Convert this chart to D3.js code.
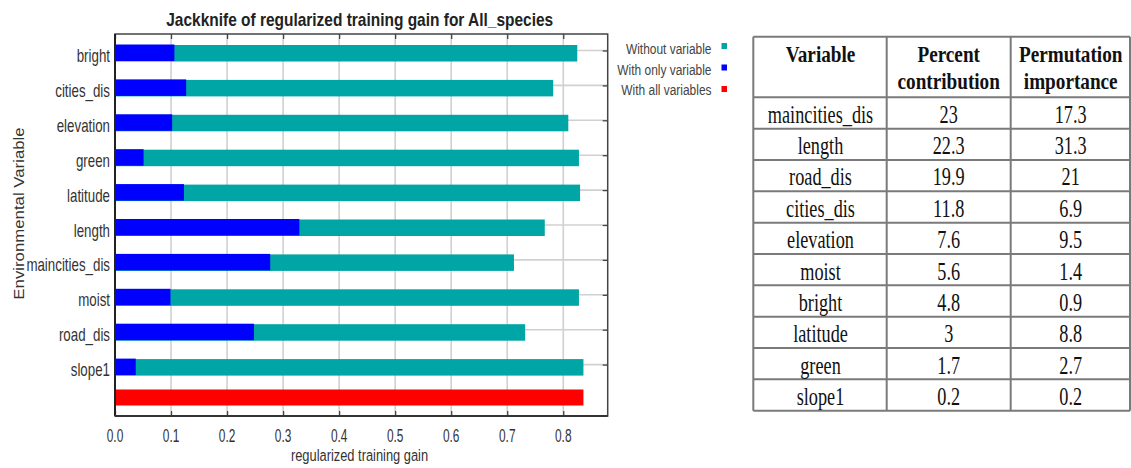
<!DOCTYPE html>
<html><head><meta charset="utf-8">
<script src="https://cdn.jsdelivr.net/npm/d3@7/dist/d3.min.js"></script>
<style>html,body{margin:0;padding:0;background:#fff;}svg{display:block;}</style>
</head><body>
<svg id="c" width="1131" height="468"></svg>
<script>
// ---- Data ----
const variables = ["bright","cities_dis","elevation","green","latitude","length","maincities_dis","moist","road_dis","slope1"];
const withoutVariable = [0.825,0.782,0.809,0.828,0.830,0.767,0.712,0.828,0.732,0.836];
const withOnlyVariable = [0.106,0.127,0.102,0.051,0.123,0.329,0.277,0.099,0.248,0.037];
const withAllVariables = 0.836;
const xTicks = [0,0.1,0.2,0.3,0.4,0.5,0.6,0.7,0.8];
const legendLabels = ["Without variable","With only variable","With all variables"];
const tableHeader = [["Variable"],["Percent","contribution"],["Permutation","importance"]];
const tableVars = ["maincities_dis","length","road_dis","cities_dis","elevation","moist","bright","latitude","green","slope1"];
const percentContribution = [23,22.3,19.9,11.8,7.6,5.6,4.8,3,1.7,0.2];
const permutationImportance = [17.3,31.3,21,6.9,9.5,1.4,0.9,8.8,2.7,0.2];

const svg = d3.select("#c");
const L = 115, R = 607.7, T = 34, B = 416;
const x = d3.scaleLinear().domain([0, 0.8793]).range([L, R]);
const y = d3.scaleLinear().domain([0, 10]).range([50.5, 399.5]);
const colors = {without:"#00A6A6", only:"#0000FF", all:"#FF0000"};

function txt(g, tx, ty, s, o){
  const t = g.append("text")
    .attr("transform", `translate(${tx},${ty}) scale(${o.sx||1},${o.sy||1})`)
    .attr("text-anchor", o.anchor||"start")
    .attr("font-family", o.family||"'Liberation Sans', Arial, sans-serif")
    .attr("font-size", o.size)
    .attr("font-weight", o.weight||"normal")
    .attr("fill", o.fill||"#333")
    .text(s);
  return t;
}

// gridlines
const grid = svg.append("g");
grid.selectAll("line.v").data(xTicks).join("line")
  .attr("x1", d=>x(d)).attr("x2", d=>x(d)).attr("y1", T).attr("y2", B)
  .attr("stroke", "#d0d0d0").attr("stroke-width", 1.6);
grid.selectAll("line.h").data(variables).join("line")
  .attr("x1", L).attr("x2", R).attr("y1", (d,i)=>y(i)).attr("y2", (d,i)=>y(i))
  .attr("stroke", "#d0d0d0").attr("stroke-width", 1.6);

// bars
const bars = svg.append("g");
bars.selectAll("rect.w").data(withoutVariable).join("rect")
  .attr("x", x(0)).attr("y", (d,i)=>y(i)-5.5).attr("height", 16.5)
  .attr("width", d=>x(d)-x(0)).attr("fill", colors.without);
bars.selectAll("rect.o").data(withOnlyVariable).join("rect")
  .attr("x", x(0)).attr("y", (d,i)=>y(i)-6).attr("height", 16.5)
  .attr("width", d=>x(d)-x(0)).attr("fill", colors.only);
bars.append("rect").attr("x", x(0)).attr("y", y(10)-10).attr("height", 16)
  .attr("width", x(withAllVariables)-x(0)).attr("fill", colors.all);

// frame and ticks
const ax = svg.append("g");
ax.append("g").attr("transform", `translate(0,${B})`)
  .call(d3.axisBottom(x).tickValues(xTicks).tickSize(-5).tickFormat(""))
  .call(g=>{g.select(".domain").remove(); g.selectAll("line").attr("stroke","#444").attr("stroke-width",1.3);});
ax.append("g").attr("transform", `translate(0,${T})`)
  .call(d3.axisTop(x).tickValues(xTicks).tickSize(-5).tickFormat(""))
  .call(g=>{g.select(".domain").remove(); g.selectAll("line").attr("stroke","#444").attr("stroke-width",1.3);});
ax.append("g").attr("transform", `translate(${R},0)`)
  .call(d3.axisRight(y).tickValues(d3.range(variables.length)).tickSize(-5).tickFormat(""))
  .call(g=>{g.select(".domain").remove(); g.selectAll("line").attr("stroke","#444").attr("stroke-width",1.3);});
ax.append("rect").attr("x", L).attr("y", T).attr("width", R-L).attr("height", B-T)
  .attr("fill","none").attr("stroke","#444").attr("stroke-width",1.5);
ax.append("line").attr("x1",L).attr("x2",L).attr("y1",T).attr("y2",B).attr("stroke","#222").attr("stroke-width",2);
ax.append("line").attr("x1",L).attr("x2",R).attr("y1",B).attr("y2",B).attr("stroke","#333").attr("stroke-width",1.8);

// text
const tg = svg.append("g");
variables.forEach((v,i)=> txt(tg, 110, y(i)+11.5, v, {size:18, sx:0.74, anchor:"end", fill:"#333"}));
xTicks.forEach(t=> txt(tg, x(t), 441.7, d3.format(".1f")(t), {size:18, sx:0.66, anchor:"middle", fill:"#333"}));
txt(tg, 359.5, 461, "regularized training gain", {size:16.5, sx:0.78, anchor:"middle", fill:"#333"});
txt(tg, 359.7, 26, "Jackknife of regularized training gain for All_species", {size:18, sx:0.86, anchor:"middle", weight:"bold", fill:"#222"});
tg.append("text")
  .attr("transform", "translate(24,213.5) rotate(-90) scale(1,0.85)")
  .attr("text-anchor","middle").attr("font-family","'Liberation Sans', Arial, sans-serif")
  .attr("font-size",16.8).attr("fill","#333").text("Environmental Variable");

// legend
const legColors = [colors.without, colors.only, colors.all];
legendLabels.forEach((s,i)=>{
  txt(tg, 711.5, 54.3 + i*20.3, s, {size:15.5, sx:0.77, anchor:"end", fill:"#444"});
  tg.append("rect").attr("x", 721.5).attr("y", 43 + i*21.5).attr("width",5.5).attr("height",6).attr("fill", legColors[i]);
});

// table
const tbl = svg.append("g");
const colX = [753.3, 886.7, 1010.7, 1130];
const headTop = 36.7, headBot = 97.3, rowH = 31.34;
const rowY = d3.range(tableVars.length + 1).map(i => headBot + i*rowH);
const lineC = "#7a7a7a";
[headTop].concat(rowY).forEach(yy=> tbl.append("line").attr("x1",colX[0]).attr("x2",colX[3]).attr("y1",yy).attr("y2",yy).attr("stroke",lineC).attr("stroke-width",2));
colX.forEach(xx=> tbl.append("line").attr("x1",xx).attr("x2",xx).attr("y1",headTop).attr("y2",rowY[rowY.length-1]).attr("stroke",lineC).attr("stroke-width",2));
const colC = [820.5, 948.7, 1070.7];
const serif = "'Liberation Serif', 'Times New Roman', serif";
tableHeader.forEach((lines,c)=> lines.forEach((s,k)=> txt(tbl, colC[c], 62 + k*26.5, s, {size:24, sx:0.8, anchor:"middle", weight:"bold", family:serif, fill:"#111"})));
tableVars.forEach((v,i)=>{
  const yy = rowY[i] + 25.5;
  txt(tbl, colC[0], yy, v, {size:25, sx:0.73, anchor:"middle", family:serif, fill:"#111"});
  txt(tbl, colC[1], yy, String(percentContribution[i]), {size:25, sx:0.73, anchor:"middle", family:serif, fill:"#111"});
  txt(tbl, colC[2], yy, String(permutationImportance[i]), {size:25, sx:0.73, anchor:"middle", family:serif, fill:"#111"});
});
</script>
</body></html>
